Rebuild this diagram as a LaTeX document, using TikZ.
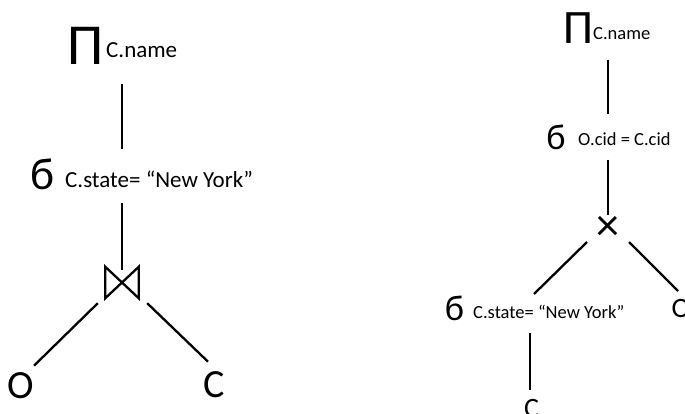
\documentclass[tikz,border=0pt]{standalone}
\usepackage{fontspec}
\setmainfont{Carlito}
\usetikzlibrary{positioning,calc}
\tikzset{
  edge/.style={line width=2.3pt},
  bigop/.style={inner sep=0pt,font=\fontsize{58}{58}\selectfont},
  smallop/.style={inner sep=0pt,font=\fontsize{48}{48}\selectfont},
  selop/.style={inner sep=0pt,font=\fontsize{45}{45}\selectfont},
  selopsm/.style={inner sep=0pt,font=\fontsize{36}{36}\selectfont},
  cond/.style={inner sep=0pt,anchor=base west,font=\fontsize{23}{23}\selectfont},
  condsm/.style={inner sep=0pt,anchor=base west,font=\fontsize{18.5}{18.5}\selectfont},
  rel/.style={inner sep=0pt,font=\fontsize{40}{40}\selectfont},
  relsm/.style={inner sep=0pt,font=\fontsize{28}{28}\selectfont},
  joinbox/.style={inner sep=0pt,minimum width=33pt,minimum height=31pt},
}

\begin{document}
\begin{tikzpicture}[x=1pt,y=-1pt]
  \useasboundingbox (0,0) rectangle (685,414);
  \clip (0,0) rectangle (685,414);

  % left tree: projection over selection over join
  \node[bigop] (piL) at (86,46) {Π};
  \node[cond] (cnL) at (106,58) {C.name};
  \node[selop] (sgL) at (42.5,174.5) {б};
  \node[cond] (cdL) at (65,188) {C.state= “New York”};
  \node[joinbox] (jnL) at (122,282.5) {};
  \draw[edge,line join=miter] (jnL.north west) -- (jnL.south east)
    -- (jnL.north east) -- (jnL.south west) -- cycle;
  \node[rel] (oL) at (20.5,386) {O};
  \node[rel] (cL) at (214,385) {C};

  \draw[edge,shorten <=19pt,shorten >=10pt] (piL.south -| jnL) -- (sgL.north -| jnL);
  \draw[edge,shorten <=13pt,shorten >=-3pt] (sgL.south -| jnL) -- (jnL.north);
  \draw[edge] ([shift={(-7.5,5)}]jnL.south west) -- ([shift={(13.5,-7)}]oL.north);
  \draw[edge] ([shift={(8.5,5)}]jnL.south east) -- ([shift={(-6,-10)}]cL.north);

  % right tree: selection pushed below the product
  \node[smallop] (piR) at (578.5,28) {Π};
  \node[condsm] (cnR) at (593,40) {C.name};
  \node[selopsm] (sgR) at (556,137) {б};
  \node[condsm] (cdR) at (578,146) {O.cid = C.cid};
  \node[inner sep=0pt,font=\fontsize{46}{46}\selectfont] (xR) at (608,228) {×};
  \node[selopsm] (sgRb) at (454.5,308) {б};
  \node[condsm] (cdRb) at (473,318) {C.state= “New York”};
  \node[relsm] (oR) at (681,309) {O};
  \node[relsm] (cR) at (531.5,409) {C};

  \draw[edge,shorten <=16pt,shorten >=10pt] (piR.south -| xR) -- (sgR.north -| xR);
  \draw[edge] ([yshift=-10pt]sgR.south -| xR) -- ([shift={(0,-13)}]xR.center);
  \draw[edge] ([shift={(-21,14)}]xR.center) -- ([shift={(61,-24)}]cdRb.base west);
  \draw[edge] ([shift={(21,14)}]xR.center) -- ([shift={(-3,-18)}]oR.center);
  \draw[edge] ([shift={(57,15)}]cdRb.base west) -- ([shift={(-1.5,-19)}]cR.center);
\end{tikzpicture}
\end{document}
